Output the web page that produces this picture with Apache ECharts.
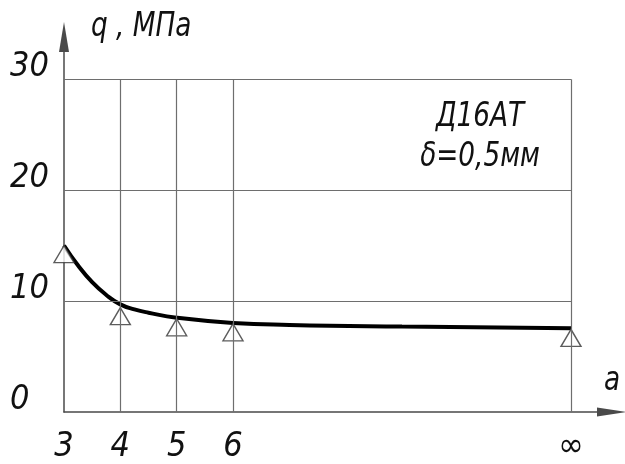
<!DOCTYPE html>
<html>
<head>
<meta charset="utf-8">
<script src="https://cdn.jsdelivr.net/npm/echarts@6/dist/echarts.min.js"></script>
<style>
html,body{margin:0;padding:0;background:#fff;}
#c{width:625px;height:464px;}
</style>
</head>
<body>
<div id="c"></div>
<script>
// ---- data ----
const curveX = [3, 3.25, 3.5, 3.75, 4, 4.25, 4.5, 5, 6, 7, 9, 12];
const curveY = [15.0, 13.2, 11.7, 10.55, 9.7, 9.25, 8.95, 8.5, 8.03, 7.85, 7.7, 7.55];
const pointX = [3, 4, 5, 6, 12];
const pointY = [15.0, 9.4, 8.4, 7.95, 7.45];
const xTickValues = [3, 4, 5, 6, 12];
const xTickLabels = ['3', '4', '5', '6', '∞'];
const yTickValues = [0, 10, 20, 30];
const yTickLabels = ['0', '10', '20', '30'];
const yName = 'q , МПа';
const xName = 'а';
const noteLines = ['Д16АТ', 'δ=0,5мм'];

// ---- styles ----
const FONT = "'DejaVu Sans Condensed', 'DejaVu Sans', sans-serif";
const FONTCSS = "italic 34px 'DejaVu Sans Condensed', 'DejaVu Sans', sans-serif";
const TXT = '#111';
const GRID = '#6e6e6e';
const AXIS = '#4a4a4a';
const xMin = xTickValues[0];
const xEnd = xTickValues[xTickValues.length - 1];
const yMin = yTickValues[0];
const yEnd = yTickValues[yTickValues.length - 1];

function lookup(vals, labels, v) {
  for (let i = 0; i < vals.length; i++) if (Math.abs(vals[i] - v) < 1e-6) return labels[i];
  return '';
}

const gridLines = [];
yTickValues.slice(1).forEach(v => gridLines.push([{coord: [xMin, v]}, {coord: [xEnd, v]}]));
xTickValues.slice(1).forEach(v => gridLines.push([{coord: [v, yMin]}, {coord: [v, yEnd]}]));

const chart = echarts.init(document.getElementById('c'), null, {renderer: 'canvas'});
chart.setOption({
  animation: false,
  backgroundColor: '#fff',
  graphic: [
    {type: 'text', x: 91, y: 10, scaleX: 0.86, silent: true,
     style: {text: yName, font: FONTCSS, fill: TXT, textVerticalAlign: 'top'}},
    {type: 'text', x: 480, y: 97, scaleX: 0.86, silent: true,
     style: {text: noteLines.join('\n'), font: FONTCSS, fill: TXT, textAlign: 'center', textVerticalAlign: 'top', lineHeight: 40}},
    {type: 'text', x: 604, y: 364, scaleX: 0.86, silent: true,
     style: {text: xName, font: FONTCSS, fill: TXT, textVerticalAlign: 'top'}}
  ],
  grid: {left: 64, right: 13, top: 37, bottom: 44, containLabel: false},
  xAxis: {
    type: 'value', min: 3, max: 12.728, interval: 1,
    axisLine: {show: true, lineStyle: {color: AXIS, width: 1.5}, symbol: ['none', 'triangle'], symbolSize: [9, 30]},
    axisTick: {show: false},
    splitLine: {show: false},
    axisLabel: {
      margin: 18, fontFamily: FONT, fontStyle: 'italic', fontSize: 34, color: TXT,
      formatter: v => lookup(xTickValues, xTickLabels, v)
    }
  },
  yAxis: {
    type: 'value', min: 0, max: 33.8, interval: 10,
    axisLine: {show: true, lineStyle: {color: AXIS, width: 1.5}, symbol: ['none', 'triangle'], symbolSize: [10, 30]},
    axisTick: {show: false},
    splitLine: {show: false},
    axisLabel: {
      margin: 54, align: 'left', verticalAlign: 'bottom', lineHeight: 24,
      fontFamily: FONT, fontStyle: 'italic', fontSize: 34, color: TXT,
      formatter: v => lookup(yTickValues, yTickLabels, v)
    }
  },
  series: [
    {
      type: 'line', data: [], z: 1, silent: true,
      markLine: {
        silent: true, symbol: 'none', label: {show: false},
        lineStyle: {color: GRID, width: 1.2, type: 'solid'},
        emphasis: {disabled: true},
        data: gridLines
      }
    },
    {
      type: 'line', z: 3, silent: true,
      data: curveX.map((x, i) => [x, curveY[i]]),
      smooth: 0.5, showSymbol: false, symbol: 'none',
      lineStyle: {color: '#000', width: 4}
    },
    {
      type: 'scatter', z: 4, silent: true,
      data: pointX.map((x, i) => [x, pointY[i]]),
      symbol: 'triangle', symbolSize: [20, 17], symbolOffset: [0, '50%'],
      itemStyle: {color: '#fff', borderColor: '#333', borderWidth: 1.4}
    }
  ]
});
</script>
</body>
</html>
